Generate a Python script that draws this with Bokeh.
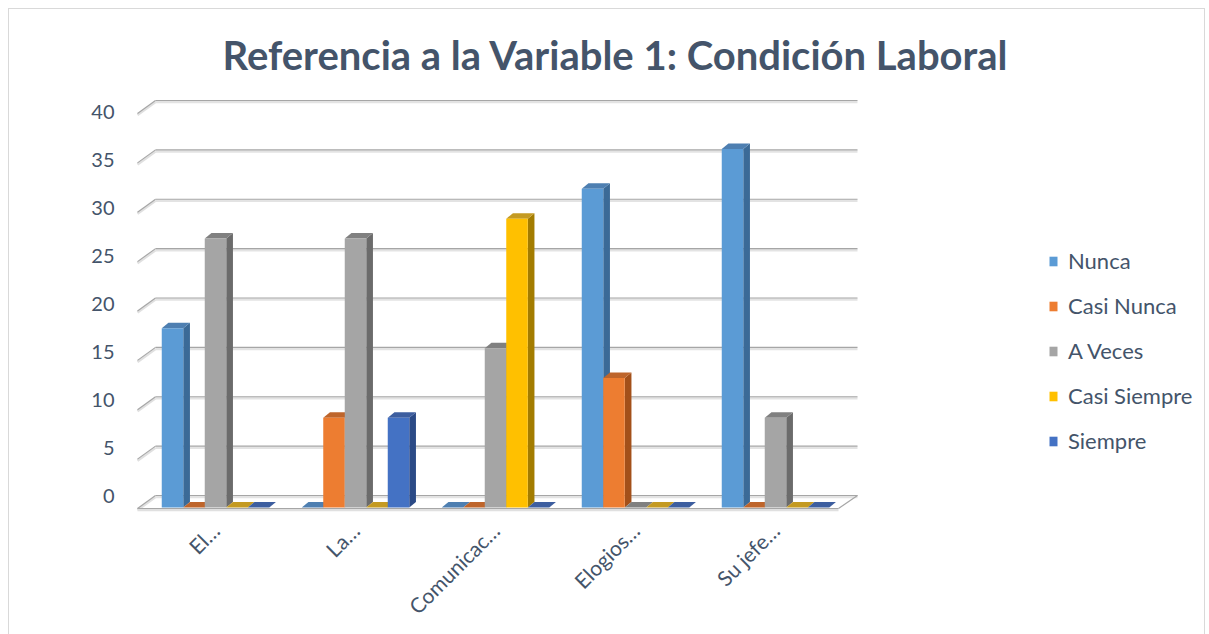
from math import pi
from bokeh.plotting import figure
from bokeh.models import (Range1d, LinearAxis, FixedTicker, Legend, LegendItem,
                          ColumnDataSource, InlineStyleSheet)
from bokeh.embed import file_html
from bokeh.resources import INLINE

# ---------------- data ----------------
categories = ["El…", "La…", "Comunicac…", "Elogios…", "Su jefe…"]
series = ["Nunca", "Casi Nunca", "A Veces", "Casi Siempre", "Siempre"]
nunca = [18, 0, 0, 32, 36]
casi_nunca = [0, 9, 0, 13, 0]
a_veces = [27, 27, 16, 0, 9]
casi_siempre = [0, 0, 29, 0, 0]
siempre = [0, 9, 0, 0, 0]
y_ticks = [0, 5, 10, 15, 20, 25, 30, 35, 40]

values = [nunca, casi_nunca, a_veces, casi_siempre, siempre]

front_colors = ["#5B9BD5", "#ED7D31", "#A5A5A5", "#FFC000", "#4472C4"]
side_colors = ["#3B6A97", "#A3501A", "#6B6B6B", "#A37C00", "#2B4A86"]
top_colors = ["#4E7FB1", "#BE652B", "#808080", "#C49A22", "#3D5E9F"]

TEXT = "#44546A"
FONT = "Lato"

# ---------------- geometry (pixel layout of the 3D frame) ----------------
W, H = 1209, 634
FL, FR, FT, FB = 130, 1209, 95, 512       # frame edges in canvas px
CAT_PX, CAT0 = 140.0, 215.0               # px per category, px of first category
FLOOR_F, PPU_F = 507.0, 9.96              # front plane
FLOOR_B, PPU_B = 495.0, 9.875             # back wall
FLOOR_L, PPU_L = 495.0, 9.58              # tick labels

def xr(px):
    return (px - CAT0) / CAT_PX

x_range = Range1d(xr(FL), xr(FR))
y_range = Range1d((FLOOR_F - FB) / PPU_F, (FLOOR_F - FT) / PPU_F)

p = figure(width=W, height=H, x_range=x_range, y_range=y_range,
           output_backend="svg", toolbar_location=None,
           x_axis_location=None, y_axis_location=None,
           min_border_left=FL, min_border_right=W - FR,
           min_border_top=FT, min_border_bottom=H - FB)
p.outline_line_color = None
p.xgrid.visible = False
p.ygrid.visible = False
p.background_fill_color = "white"
p.border_fill_color = "white"
p.stylesheets = [InlineStyleSheet(css=(
    ":host { position: relative; }"
    ":host::after { content: ''; position: absolute; left: 8px; top: 8px; "
    "right: 4px; bottom: -20px; border: 1px solid #D9D9D9; "
    "pointer-events: none; z-index: 1000; }"))]

p.extra_y_ranges = {
    "back": Range1d((FLOOR_B - FB) / PPU_B, (FLOOR_B - FT) / PPU_B),
    "lab": Range1d((FLOOR_L - FB) / PPU_L, (FLOOR_L - FT) / PPU_L),
}

# ---------------- back wall gridlines + diagonal depth ticks ----------------
gx0, gx1 = xr(155), xr(857)
fx0, fx1 = xr(137), xr(838)
depth = 13.0 / PPU_B
sh = 1.6 / PPU_B
n = len(y_ticks)
p.segment(x0=[gx0] * n, x1=[gx1] * n,
          y0=[v - sh for v in y_ticks], y1=[v - sh for v in y_ticks],
          y_range_name="back", line_color="#E3E3E3", line_width=2.5)
p.segment(x0=[gx0] * n, x1=[gx1] * n, y0=y_ticks, y1=y_ticks,
          y_range_name="back", line_color="#A6A6A6", line_width=1.2)
p.segment(x0=[fx0] * n, x1=[gx0] * n,
          y0=[v - depth - sh for v in y_ticks], y1=[v - sh for v in y_ticks],
          y_range_name="back", line_color="#E0E0E0", line_width=2.5)
p.segment(x0=[fx0] * n, x1=[gx0] * n,
          y0=[v - depth for v in y_ticks], y1=y_ticks,
          y_range_name="back", line_color="#A6A6A6", line_width=1.2)
# floor front edge and right edge
p.segment(x0=[fx0], x1=[fx1], y0=[-depth - sh], y1=[-depth - sh],
          y_range_name="back", line_color="#E0E0E0", line_width=2.5)
p.segment(x0=[fx0], x1=[fx1], y0=[-depth], y1=[-depth],
          y_range_name="back", line_color="#A6A6A6", line_width=1.2)
p.segment(x0=[fx1], x1=[gx1], y0=[-depth], y1=[0],
          y_range_name="back", line_color="#A6A6A6", line_width=1.2)

# ---------------- 3D bars ----------------
group_w = 107.5 / CAT_PX
bar_w = group_w / len(series)
DX = 6.7 / CAT_PX
DY = 5.5 / PPU_F

items = []
for k, (name, vals) in enumerate(zip(series, values)):
    lefts = [i - group_w / 2 + k * bar_w for i in range(len(categories))]
    rights = [l + bar_w for l in lefts]
    side_xs, side_ys, top_xs, top_ys = [], [], [], []
    for l, r, v in zip(lefts, rights, vals):
        side_xs.append([r, r + DX, r + DX, r])
        side_ys.append([0, DY, v + DY, v])
        top_xs.append([l, r, r + DX, l + DX])
        top_ys.append([v, v, v + DY, v + DY])
    p.patches(xs=side_xs, ys=side_ys, fill_color=side_colors[k], line_color=None)
    p.patches(xs=top_xs, ys=top_ys, fill_color=top_colors[k], line_color=None)
    src = ColumnDataSource(dict(left=lefts, right=rights, top=vals,
                                bottom=[0] * len(vals)))
    r_front = p.quad(left="left", right="right", top="top", bottom="bottom",
                     source=src, fill_color=front_colors[k], line_color=None)
    items.append(LegendItem(label=name, renderers=[r_front]))

# ---------------- axes ----------------
yaxis = LinearAxis(y_range_name="lab", ticker=FixedTicker(ticks=y_ticks))
yaxis.axis_line_color = None
yaxis.major_tick_line_color = None
yaxis.minor_tick_line_color = None
yaxis.major_label_standoff = 10
yaxis.major_label_text_font = FONT
yaxis.major_label_text_font_size = "20px"
yaxis.major_label_text_color = TEXT
p.add_layout(yaxis, "left")

xaxis = LinearAxis(ticker=FixedTicker(ticks=list(range(len(categories)))),
                   major_label_overrides={i: c for i, c in enumerate(categories)})
xaxis.axis_line_color = None
xaxis.major_tick_line_color = None
xaxis.minor_tick_line_color = None
xaxis.major_label_orientation = pi / 4
xaxis.major_label_standoff = 8
xaxis.major_label_text_font = FONT
xaxis.major_label_text_font_size = "21px"
xaxis.major_label_text_color = TEXT
p.add_layout(xaxis, "below")

# ---------------- title ----------------
p.title.text = "Referencia a la Variable 1: Condición Laboral"
p.title.align = "left"
p.title.offset = 92
p.title.standoff = 34
p.title.text_font = FONT
p.title.text_font_size = "40px"
p.title.text_font_style = "bold"
p.title.text_color = TEXT

# ---------------- legend ----------------
legend = Legend(items=items, location=(918, 58), orientation="vertical",
                glyph_width=10, glyph_height=12, label_standoff=10,
                spacing=18, label_height=20, padding=0, margin=0,
                border_line_alpha=0, background_fill_alpha=0,
                label_text_font=FONT, label_text_font_size="22px",
                label_text_color=TEXT)
p.add_layout(legend)

open("out.html", "w").write(file_html(p, INLINE))
